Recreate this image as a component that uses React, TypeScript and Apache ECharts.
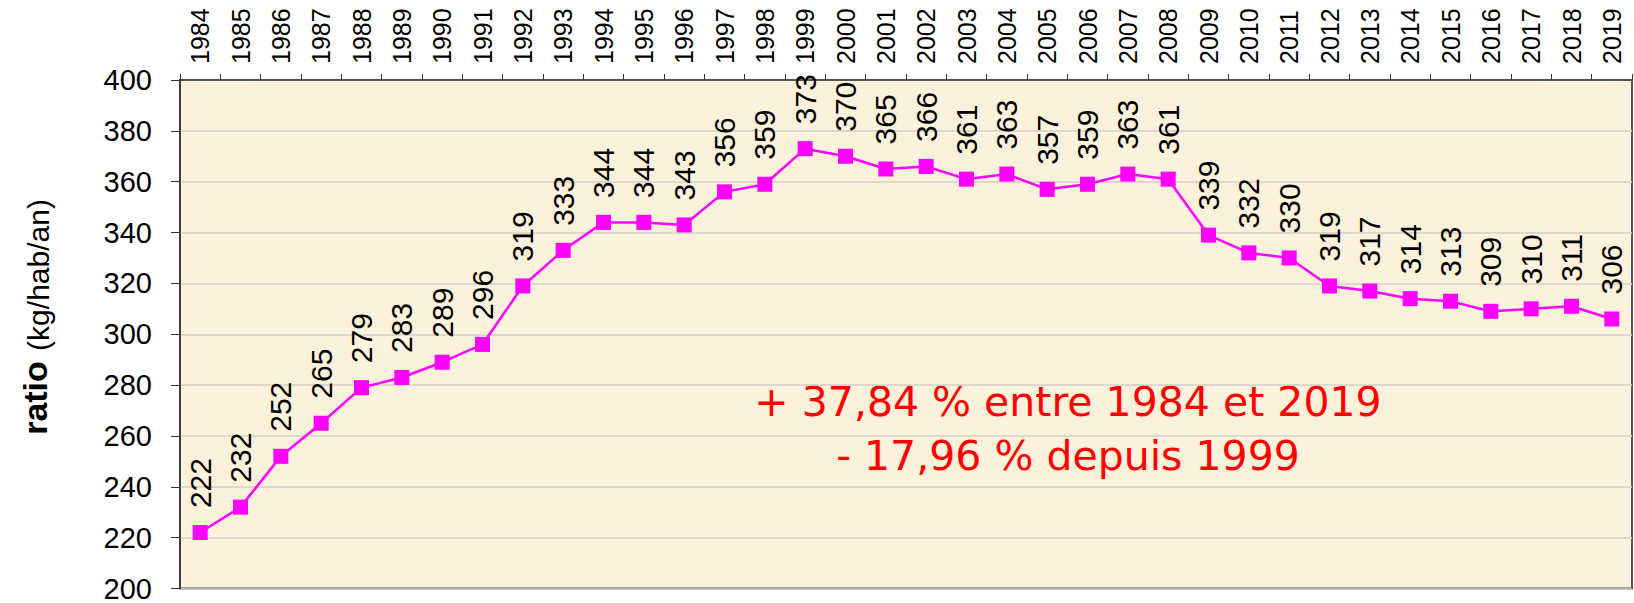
import React, { useEffect, useRef } from "react";
import * as echarts from "echarts";

const years = [
  "1984", "1985", "1986", "1987", "1988", "1989", "1990", "1991", "1992", "1993",
  "1994", "1995", "1996", "1997", "1998", "1999", "2000", "2001", "2002", "2003",
  "2004", "2005", "2006", "2007", "2008", "2009", "2010", "2011", "2012", "2013",
  "2014", "2015", "2016", "2017", "2018", "2019",
];

const ratios = [
  222, 232, 252, 265, 279, 283, 289, 296, 319, 333,
  344, 344, 343, 356, 359, 373, 370, 365, 366, 361,
  363, 357, 359, 363, 361, 339, 332, 330, 319, 317,
  314, 313, 309, 310, 311, 306,
];

const yMin = 200;
const yMax = 400;
const yStep = 20;

const axisTitleMain = "ratio";
const axisTitleUnit = "(kg/hab/an)";
const noteLines = ["+ 37,84 % entre 1984 et 2019", "- 17,96 % depuis 1999"];

const FONT = "'Liberation Sans', Arial, sans-serif";
const NOTE_FONT = "'DejaVu Sans', Verdana, sans-serif";

export default function App() {
  const ref = useRef<HTMLDivElement | null>(null);

  useEffect(() => {
    if (!ref.current) return;
    const chart = echarts.init(ref.current, null, { renderer: "svg" });
    chart.setOption({
      animation: false,
      backgroundColor: "#ffffff",
      grid: {
        left: 180,
        top: 80,
        width: 1452,
        height: 511,
        show: true,
        backgroundColor: "#FCF1DA",
        borderColor: "#555555",
        borderWidth: 2,
        containLabel: false,
      },
      xAxis: {
        type: "category",
        data: years,
        position: "top",
        boundaryGap: true,
        axisLine: { show: true, lineStyle: { color: "#333333", width: 1.5 } },
        axisTick: { show: true, length: 6, lineStyle: { color: "#333333", width: 1 } },
        axisLabel: {
          interval: 0,
          rotate: -90,
          fontSize: 25,
          margin: 16,
          color: "#000000",
          fontFamily: FONT,
        },
        splitLine: { show: false },
      },
      yAxis: {
        type: "value",
        min: yMin,
        max: yMax,
        interval: yStep,
        axisLine: { show: true, lineStyle: { color: "#333333", width: 1.5 } },
        axisTick: { show: true, length: 9, lineStyle: { color: "#333333", width: 1 } },
        axisLabel: {
          fontSize: 29,
          margin: 28,
          color: "#000000",
          fontFamily: FONT,
        },
        splitLine: { show: true, lineStyle: { color: "#D3CFC6", width: 1.5 } },
      },
      series: [
        {
          type: "line",
          data: ratios,
          symbol: "rect",
          symbolSize: 15,
          itemStyle: { color: "#FF00FF" },
          lineStyle: { color: "#FF00FF", width: 2.5 },
          label: {
            show: true,
            position: "top",
            rotate: 90,
            align: "left",
            verticalAlign: "middle",
            distance: 17,
            fontSize: 30,
            color: "#000000",
            fontFamily: FONT,
          },
        },
      ],
      graphic: [
        {
          type: "text",
          x: 35,
          y: 398,
          rotation: Math.PI / 2,
          style: {
            text: axisTitleMain,
            fontSize: 34,
            fontWeight: "bold",
            fontFamily: FONT,
            fill: "#000000",
            align: "center",
            verticalAlign: "middle",
          },
        },
        {
          type: "text",
          x: 38,
          y: 275,
          rotation: Math.PI / 2,
          style: {
            text: axisTitleUnit,
            fontSize: 30,
            fontFamily: FONT,
            fill: "#000000",
            align: "center",
            verticalAlign: "middle",
          },
        },
        {
          type: "text",
          x: 1068,
          y: 402,
          style: {
            text: noteLines[0],
            fontSize: 41,
            fontFamily: NOTE_FONT,
            fill: "#FF0000",
            align: "center",
            verticalAlign: "middle",
          },
        },
        {
          type: "text",
          x: 1068,
          y: 456,
          style: {
            text: noteLines[1],
            fontSize: 41,
            fontFamily: NOTE_FONT,
            fill: "#FF0000",
            align: "center",
            verticalAlign: "middle",
          },
        },
      ],
    });
    return () => chart.dispose();
  }, []);

  return (
    <div
      ref={ref}
      style={{ position: "absolute", left: 0, top: 0, width: 1634, height: 603 }}
    />
  );
}
